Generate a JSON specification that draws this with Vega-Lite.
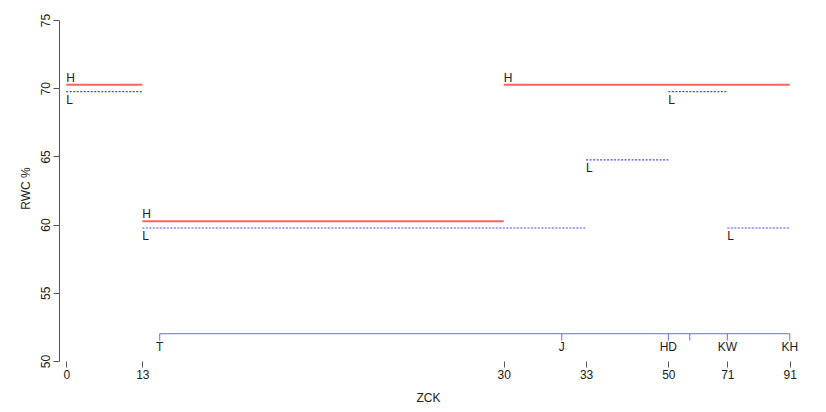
{
  "$schema": "https://vega.github.io/schema/vega-lite/v6.json",
  "width": 738,
  "height": 341,
  "autosize": {"type": "none"},
  "padding": {"left": 59, "top": 20, "right": 29, "bottom": 51},
  "background": "white",
  "config": {
    "view": {"stroke": null},
    "font": "Liberation Sans",
    "axis": {"grid": false}
  },
  "datasets": {
    "segments": [
      {"series": "H", "x0": 0, "x1": 10.52, "y": 70.25},
      {"series": "H", "x0": 10.52, "x1": 60.47, "y": 60.25},
      {"series": "H", "x0": 60.47, "x1": 100, "y": 70.25},
      {"series": "L", "x0": 0, "x1": 10.52, "y": 69.75},
      {"series": "L", "x0": 10.52, "x1": 71.85, "y": 59.75},
      {"series": "L", "x0": 71.85, "x1": 83.22, "y": 64.75},
      {"series": "L", "x0": 83.22, "x1": 91.37, "y": 69.75},
      {"series": "L", "x0": 91.37, "x1": 100, "y": 59.75}
    ],
    "timeline": [
      {"stage": "T", "x": 12.92},
      {"stage": "J", "x": 68.49},
      {"stage": "HD", "x": 83.22},
      {"stage": "", "x": 86.18},
      {"stage": "KW", "x": 91.37},
      {"stage": "KH", "x": 100}
    ]
  },
  "layer": [
    {
      "data": {"name": "segments"},
      "transform": [{"filter": "datum.series == 'H'"}],
      "mark": {"type": "rule", "color": "#ff6262", "strokeWidth": 2},
      "encoding": {
        "x": {
          "field": "x0", "type": "quantitative",
          "scale": {"domain": [-1, 101], "nice": false, "zero": false},
          "axis": {
            "title": "ZCK",
            "values": [0, 10.52, 60.47, 71.85, 83.22, 91.37, 100],
            "labelExpr": "datum.value == 0 ? '0' : datum.value == 10.52 ? '13' : datum.value == 60.47 ? '30' : datum.value == 71.85 ? '33' : datum.value == 83.22 ? '50' : datum.value == 91.37 ? '71' : '91'",
            "domain": false,
            "tickColor": "#555555",
            "tickSize": 6,
            "labelFontSize": 12,
            "labelColor": "#222222",
            "labelPadding": 2,
            "labelFlush": false,
            "labelOverlap": false,
            "titleFontSize": 12,
            "titleFontWeight": "normal",
            "titleColor": "#222222",
            "titleY": 36,
            "titleBaseline": "middle"
          }
        },
        "x2": {"field": "x1"},
        "y": {
          "field": "y", "type": "quantitative",
          "scale": {"domain": [50, 75], "nice": false, "zero": false},
          "axis": {
            "title": "RWC %",
            "values": [50, 55, 60, 65, 70, 75],
            "labelAngle": -90,
            "labelAlign": "center",
            "labelBaseline": "bottom",
            "labelPadding": 1,
            "labelFontSize": 12,
            "labelColor": "#222222",
            "domainColor": "#555555",
            "tickColor": "#555555",
            "tickSize": 6,
            "labelFlush": false,
            "labelOverlap": false,
            "titleFontSize": 12,
            "titleFontWeight": "normal",
            "titleColor": "#222222",
            "titleAngle": -90,
            "titleX": -34,
            "titleY": 168,
            "titleAlign": "center",
            "titleBaseline": "middle"
          }
        }
      }
    },
    {
      "data": {"name": "segments"},
      "transform": [{"filter": "datum.series == 'L'"}],
      "mark": {"type": "rule", "color": "#4646ff", "strokeWidth": 1.2, "strokeDash": [2, 1.5]},
      "encoding": {
        "x": {"field": "x0", "type": "quantitative", "scale": {"domain": [-1, 101], "nice": false, "zero": false}},
        "x2": {"field": "x1"},
        "y": {"field": "y", "type": "quantitative", "scale": {"domain": [50, 75], "nice": false, "zero": false}}
      }
    },
    {
      "data": {"name": "segments"},
      "transform": [{"filter": "datum.series == 'H'"}],
      "mark": {"type": "text", "align": "left", "baseline": "alphabetic", "dy": -3, "fontSize": 12, "color": "#222222"},
      "encoding": {
        "x": {"field": "x0", "type": "quantitative", "scale": {"domain": [-1, 101], "nice": false, "zero": false}},
        "y": {"field": "y", "type": "quantitative", "scale": {"domain": [50, 75], "nice": false, "zero": false}},
        "text": {"field": "series"}
      }
    },
    {
      "data": {"name": "segments"},
      "transform": [{"filter": "datum.series == 'L'"}],
      "mark": {"type": "text", "align": "left", "baseline": "top", "dy": 3, "fontSize": 12, "color": "#222222"},
      "encoding": {
        "x": {"field": "x0", "type": "quantitative", "scale": {"domain": [-1, 101], "nice": false, "zero": false}},
        "y": {"field": "y", "type": "quantitative", "scale": {"domain": [50, 75], "nice": false, "zero": false}},
        "text": {"field": "series"}
      }
    },
    {
      "data": {"name": "timeline"},
      "mark": {"type": "rule", "color": "#6a6aff", "strokeWidth": 1},
      "encoding": {
        "x": {"aggregate": "min", "field": "x", "type": "quantitative", "scale": {"domain": [-1, 101], "nice": false, "zero": false}},
        "x2": {"aggregate": "max", "field": "x"},
        "y": {"datum": 52, "type": "quantitative", "scale": {"domain": [50, 75], "nice": false, "zero": false}}
      }
    },
    {
      "data": {"name": "timeline"},
      "mark": {"type": "rule", "color": "#6a6aff", "strokeWidth": 1},
      "encoding": {
        "x": {"field": "x", "type": "quantitative", "scale": {"domain": [-1, 101], "nice": false, "zero": false}},
        "y": {"datum": 52, "type": "quantitative", "scale": {"domain": [50, 75], "nice": false, "zero": false}},
        "y2": {"datum": 51.5}
      }
    },
    {
      "data": {"name": "timeline"},
      "mark": {"type": "text", "align": "center", "baseline": "top", "dy": 8, "fontSize": 12, "color": "#222222"},
      "encoding": {
        "x": {"field": "x", "type": "quantitative", "scale": {"domain": [-1, 101], "nice": false, "zero": false}},
        "y": {"datum": 52, "type": "quantitative", "scale": {"domain": [50, 75], "nice": false, "zero": false}},
        "text": {"field": "stage"}
      }
    },
    {
      "mark": {"type": "rule", "color": "#8a8a8a", "strokeWidth": 1},
      "encoding": {
        "x": {"datum": 0, "type": "quantitative", "scale": {"domain": [-1, 101], "nice": false, "zero": false}},
        "x2": {"datum": 100},
        "y": {"datum": 50, "type": "quantitative", "scale": {"domain": [50, 75], "nice": false, "zero": false}}
      }
    }
  ]
}
